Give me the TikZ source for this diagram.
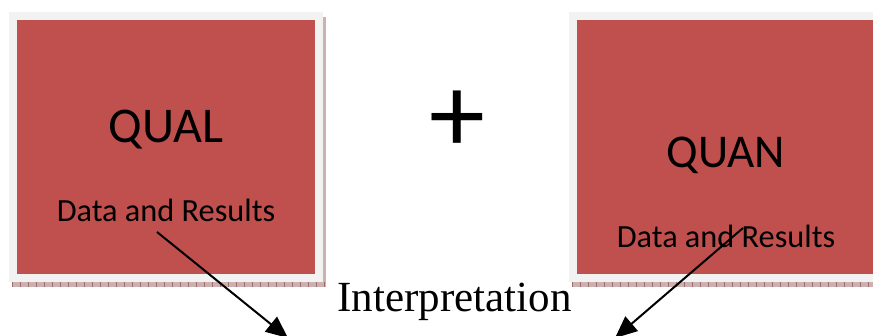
\documentclass[tikz,border=0pt]{standalone}
\usepackage{fontspec}
\setmainfont{Liberation Serif}
\newfontfamily\calib{Carlito}
\usetikzlibrary{arrows.meta}
\definecolor{boxred}{HTML}{C0504D}
\definecolor{framegray}{HTML}{F2F2F2}
\definecolor{shadowpink}{HTML}{CDB0B0}
\definecolor{shadowtick}{HTML}{9A6E70}
\tikzset{
  x=1pt, y=-1pt,
  frame/.style={fill=framegray, draw=none},
  redbox/.style={fill=boxred, draw=none},
  shadow/.style={fill=shadowpink, draw=none},
  ticks/.style={draw=shadowtick, line width=5pt, dash pattern=on 0.8pt off 7.2pt},
  bigtxt/.style={inner sep=0pt, anchor=base, font=\calib\fontsize{50}{52}\selectfont},
  smalltxt/.style={inner sep=0pt, anchor=base, font=\calib\fontsize{32.3}{35}\selectfont},
  conn/.style={draw=black, line width=2pt, -{Triangle[length=22pt,width=19pt]}}
}
\begin{document}
\begin{tikzpicture}
\useasboundingbox (0,0) rectangle (873,336);
% left box shadow
\fill[shadow] (12,282) rectangle (325,287);
\fill[shadow] (323,17) rectangle (325.5,287);
\draw[ticks] (12,284.5) -- (325,284.5);
% right box shadow
\fill[shadow] (572,282) rectangle (880,287);
\draw[ticks] (572,284.5) -- (880,284.5);
% left box
\fill[frame] (9,12) rectangle (323,282);
\fill[redbox] (17,20) rectangle (315,274);
% right box
\fill[frame] (569,12) rectangle (890,282);
\fill[redbox] (577,20) rectangle (883,274);
% texts
\node[bigtxt] (qual) at (166,143) {QUAL};
\node[smalltxt] (dl) at (166,222) {Data and Results};
\node[bigtxt, font=\calib\fontsize{47}{50}\selectfont] (quan) at (726,168) {QUAN};
\node[smalltxt] (dr) at (726,248) {Data and Results};
\node[inner sep=0pt, anchor=base, font=\calib\fontsize{112}{116}\selectfont] (plus) at (457,153) {+};
\node[inner sep=0pt, anchor=base, font=\fontsize{43}{47}\selectfont] (interp) at (454.5,312) {Interpretation};
% connectors
\coordinate (ls) at (157,232);
\coordinate (le) at (288,338);
\coordinate (rs) at (743,228);
\coordinate (re) at (615,338);
\draw[conn] (ls) -- (le);
\draw[conn] (rs) -- (re);
\end{tikzpicture}
\end{document}
